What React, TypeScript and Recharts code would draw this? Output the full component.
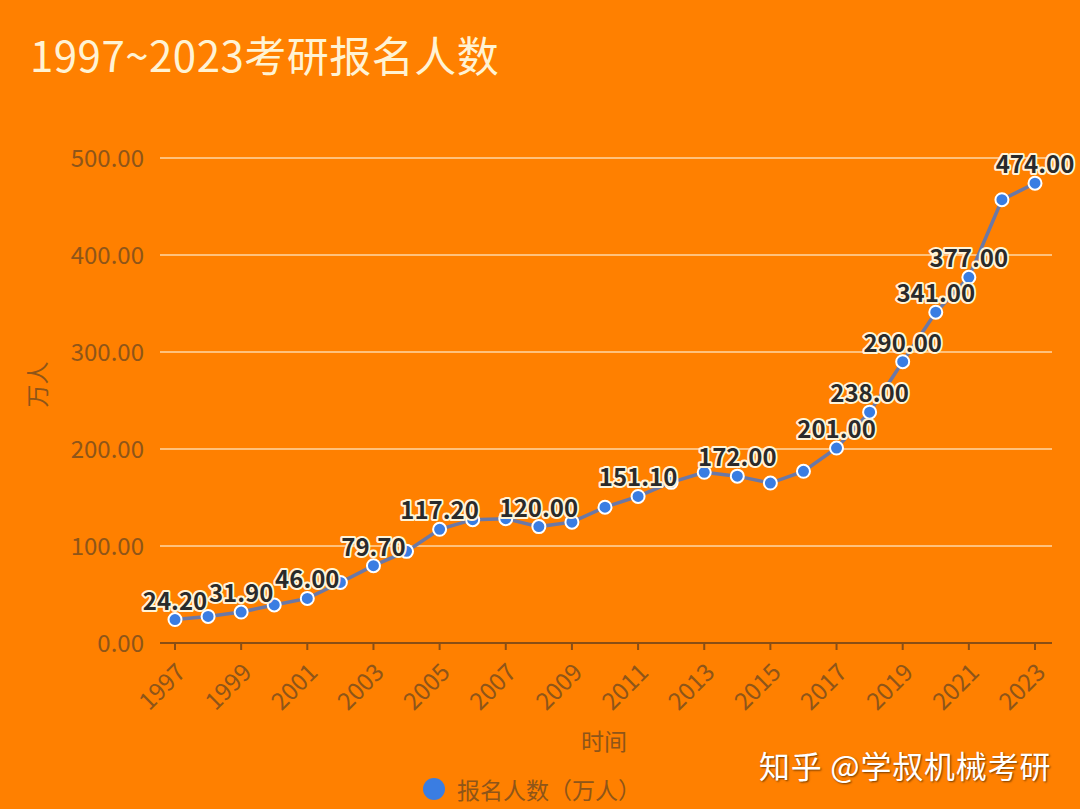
import { LineChart, Line, XAxis, YAxis, CartesianGrid, LabelList } from 'recharts';

// 考研报名人数（万人），1997-2023
const years = [
  '1997', '1998', '1999', '2000', '2001', '2002', '2003', '2004', '2005',
  '2006', '2007', '2008', '2009', '2010', '2011', '2012', '2013', '2014',
  '2015', '2016', '2017', '2018', '2019', '2020', '2021', '2022', '2023',
];
const applicants = [
  24.2, 27.4, 31.9, 39.2, 46.0, 62.4, 79.7, 94.5, 117.2,
  127.12, 128.2, 120.0, 124.6, 140.0, 151.1, 165.6, 176.0, 172.0,
  164.9, 177.0, 201.0, 238.0, 290.0, 341.0, 377.0, 457.0, 474.0,
];
// only these points carry a value label in the original
const labeledYears = [
  '1997', '1999', '2001', '2003', '2005', '2008', '2011',
  '2014', '2017', '2018', '2019', '2020', '2021', '2023',
];
const yTicks = [0, 100, 200, 300, 400, 500];

const BG = '#ff8000';
const AXIS_COLOR = '#8a4e14';
const TEXT_COLOR = '#8e5519';
const GRID_COLOR = '#ffd7a6';
const LINE_COLOR = '#6b78a6';
const DOT_COLOR = '#3a7de2';
const FONT = '"Noto Sans CJK SC", "Noto Sans", sans-serif';

const data = years.map((year, i) => ({
  year,
  value: applicants[i],
  tag: labeledYears.includes(year) ? applicants[i].toFixed(2) : '',
}));

function YearTick({ x, y, payload }: any) {
  const tx = x + 6;
  const ty = y + 12;
  return (
    <text
      x={tx}
      y={ty}
      transform={`rotate(-45, ${tx}, ${ty})`}
      textAnchor="end"
      dy="0.35em"
      fontSize={24}
      fill={TEXT_COLOR}
      fontFamily={FONT}
    >
      {payload.value}
    </text>
  );
}

function ValueLabel({ x, y, value }: any) {
  if (!value) return null;
  return (
    <text
      x={x}
      y={y - 10}
      textAnchor="middle"
      fontSize={24}
      fontWeight={600}
      fill="#2a2a2a"
      stroke="#fff4d8"
      strokeWidth={4}
      strokeLinejoin="round"
      paintOrder="stroke"
      fontFamily={FONT}
    >
      {value}
    </text>
  );
}

function YTitle({ viewBox }: any) {
  const cx = 36;
  const cy = viewBox.y + viewBox.height / 2 - 16;
  return (
    <text
      x={cx}
      y={cy}
      transform={`rotate(-90, ${cx}, ${cy})`}
      textAnchor="middle"
      dominantBaseline="central"
      fontSize={23}
      fill={TEXT_COLOR}
      fontFamily={FONT}
    >
      万人
    </text>
  );
}

function XTitle({ viewBox }: any) {
  return (
    <text
      x={604}
      y={viewBox.y + 97}
      textAnchor="middle"
      dominantBaseline="central"
      fontSize={23}
      fill={TEXT_COLOR}
      fontFamily={FONT}
    >
      时间
    </text>
  );
}

export default function App() {
  return (
    <div style={{ position: 'relative', width: 1080, height: 809, background: BG, fontFamily: FONT, overflow: 'hidden' }}>
      <style>{'body{margin:0}'}</style>
      <div
        style={{
          position: 'absolute',
          left: 30,
          top: 30,
          fontSize: 42,
          lineHeight: '48px',
          color: '#fff3d4',
          letterSpacing: 0.5,
        }}
      >
        1997~2023考研报名人数
      </div>

      <LineChart width={1080} height={809} data={data} margin={{ top: 158, right: 28, bottom: 0, left: 0 }}>
        <CartesianGrid horizontal vertical={false} stroke={GRID_COLOR} strokeWidth={1.5} />
        <XAxis
          dataKey="year"
          interval={1}
          height={166}
          padding={{ left: 15, right: 17 }}
          axisLine={{ stroke: AXIS_COLOR, strokeWidth: 2 }}
          tickLine={{ stroke: AXIS_COLOR, strokeWidth: 2 }}
          tickSize={7}
          tickMargin={6}
          tick={<YearTick />}
          label={<XTitle />}
        />
        <YAxis
          domain={[0, 500]}
          ticks={yTicks}
          width={160}
          axisLine={false}
          tickLine={false}
          tickSize={0}
          tickMargin={16}
          tickFormatter={(v: number) => v.toFixed(2)}
          tick={{ fontSize: 24, fill: TEXT_COLOR, fontFamily: FONT }}
          label={<YTitle />}
        />
        <Line
          type="linear"
          dataKey="value"
          stroke={LINE_COLOR}
          strokeWidth={3.5}
          dot={{ r: 6.5, fill: DOT_COLOR, stroke: '#ffffff', strokeWidth: 2 }}
          activeDot={false}
          isAnimationActive={false}
        >
          <LabelList dataKey="tag" content={<ValueLabel />} />
        </Line>
      </LineChart>

      <div
        style={{
          position: 'absolute',
          left: 423,
          top: 772,
          display: 'flex',
          alignItems: 'center',
          gap: 12,
          fontSize: 23,
          color: TEXT_COLOR,
        }}
      >
        <span style={{ width: 22, height: 22, borderRadius: '50%', background: DOT_COLOR, display: 'inline-block' }} />
        <span>报名人数（万人）</span>
      </div>

      <div
        style={{
          position: 'absolute',
          left: 759,
          top: 742,
          fontSize: 31,
          letterSpacing: 0.8,
          color: '#ffffff',
          textShadow: '1px 1px 2px rgba(0,0,0,0.55)',
        }}
      >
        知乎 @学叔机械考研
      </div>
    </div>
  );
}
